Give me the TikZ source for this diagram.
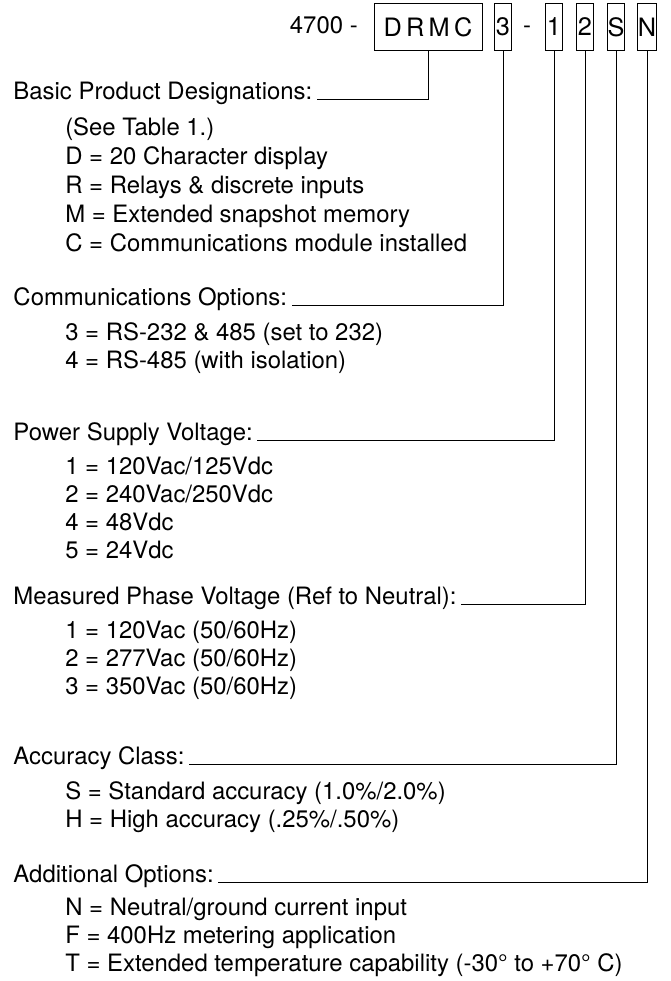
\documentclass[tikz,border=0pt]{standalone}
\usepackage{fontspec}
\setmainfont{TeX Gyre Heros}

\begin{document}
\begin{tikzpicture}[x=0.025cm, y=-0.025cm, font=\fontsize{17}{20}\selectfont]
  \tikzset{
    codebox/.style={draw, line width=0.6pt, minimum height=1.18cm, inner sep=0pt,
      font=\fontsize{18}{21}\selectfont},
    digitbox/.style={codebox, minimum width=0.43cm},
    heading/.style={anchor=base west, inner sep=3pt},
    item/.style={anchor=base west, inner sep=0pt},
    lead/.style={line width=0.6pt}
  }
  \useasboundingbox (0,0) rectangle (671,981);

  % part number
  \node[anchor=base east, inner sep=0pt] (pn) at (358,33) {4700 -};
  \node[codebox, minimum width=2.7cm] (drmc) at (428,27) {D\kern3pt R\kern3pt M\kern3pt C};
  \node[digitbox] (b3) at (503,27) {3};
  \node[anchor=base, inner sep=0pt] (dash) at (527,33) {-};
  \node[digitbox] (b1) at (554,27) {1};
  \node[digitbox] (b2) at (585,27) {2};
  \node[digitbox] (bS) at (616,27) {S};
  \node[digitbox] (bN) at (647,27) {N};

  % headings
  \node[heading] (basic) at (9,99) {Basic Product Designations:};
  \node[heading] (comms) at (9,305) {Communications Options:};
  \node[heading] (power) at (9,440) {Power Supply Voltage:};
  \node[heading] (phase) at (9,604) {Measured Phase Voltage (Ref to Neutral):};
  \node[heading] (acc) at (9,764) {Accuracy Class:};
  \node[heading] (addl) at (9,882) {Additional Options:};

  % items
  \node[item] (see) at (65,135) {(See Table 1.)};
  \node[item] (optD) at (65,164) {D = 20 Character display};
  \node[item] (optR) at (65,193) {R = Relays \& discrete inputs};
  \node[item] (optM) at (65,222) {M = Extended snapshot memory};
  \node[item] (optC) at (65,251) {C = Communications module installed};

  \node[item] (com3) at (65,340) {3 = RS-232 \& 485 (set to 232)};
  \node[item] (com4) at (65,368) {4 = RS-485 (with isolation)};

  \node[item] (ps1) at (65,474) {1 = 120Vac/125Vdc};
  \node[item] (ps2) at (65,502) {2 = 240Vac/250Vdc};
  \node[item] (ps4) at (65,530) {4 = 48Vdc};
  \node[item] (ps5) at (65,558) {5 = 24Vdc};

  \node[item] (pv1) at (65,638) {1 = 120Vac (50/60Hz)};
  \node[item] (pv2) at (65,666) {2 = 277Vac (50/60Hz)};
  \node[item] (pv3) at (65,694) {3 = 350Vac (50/60Hz)};

  \node[item] (accS) at (65,799) {S = Standard accuracy (1.0\%/2.0\%)};
  \node[item] (accH) at (65,827) {H = High accuracy (.25\%/.50\%)};

  \node[item] (optN) at (65,915) {N = Neutral/ground current input};
  \node[item] (optF) at (65,943) {F = 400Hz metering application};
  \node[item] (optT) at (65,971) {T = Extended temperature capability (-30° to +70° C)};

  % leader lines
  \draw[lead] (drmc.south) |- (basic.base east);
  \draw[lead] (b3.south) |- (comms.base east);
  \draw[lead] (b1.south) |- (power.base east);
  \draw[lead] (b2.south) |- (phase.base east);
  \draw[lead] (bS.south) |- (acc.base east);
  \draw[lead] (bN.south) |- (addl.base east);
\end{tikzpicture}
\end{document}
